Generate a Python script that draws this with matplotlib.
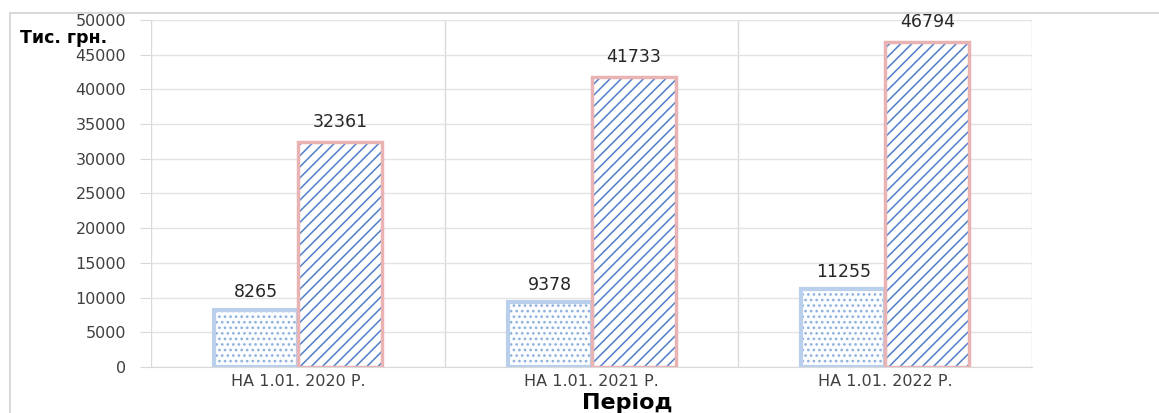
import numpy as np
import matplotlib
matplotlib.use("Agg")
import matplotlib.pyplot as plt
from matplotlib.patches import Rectangle

# data
periods = ["НА 1.01. 2020 Р.", "НА 1.01. 2021 Р.", "НА 1.01. 2022 Р."]
series_a = [8265, 9378, 11255]
series_b = [32361, 41733, 46794]
yticks = np.arange(0, 50001, 5000)

plt.rcParams['font.family'] = 'sans-serif'
plt.rcParams['font.sans-serif'] = ['DejaVu Sans']
plt.rcParams['hatch.linewidth'] = 1.1

fig = plt.figure(figsize=(11.59, 4.13), dpi=100)
ax = fig.add_axes([0.1303, 0.1114, 0.7602, 0.8402])

# outer chart border
fig.patches.append(Rectangle((0.009, -0.05), 1.1, 1.018, transform=fig.transFigure,
                             fill=False, edgecolor='#d9d9d9', linewidth=1.5))

x = np.arange(len(periods))
w = 0.286

# dotted series
ax.bar(x - w / 2, series_a, w, facecolor='#fbfdff', edgecolor='#8fb0dd',
       hatch='...', linewidth=0, zorder=3)
ax.bar(x - w / 2, series_a, w, facecolor='none', edgecolor='#b9cfec',
       linewidth=3, zorder=4)

# hatched series
ax.bar(x + w / 2, series_b, w, facecolor='white', edgecolor='#4f7fc8',
       hatch='///', linewidth=0, zorder=3)
ax.bar(x + w / 2, series_b, w, facecolor='none', edgecolor='#eab3b3',
       linewidth=2.5, zorder=4)

for xi, v in zip(x - w / 2, series_a):
    ax.annotate(str(v), (xi, v), xytext=(0, 6), textcoords='offset points',
                ha='center', va='bottom', fontsize=12.5, color='#262626')
for xi, v in zip(x + w / 2, series_b):
    ax.annotate(str(v), (xi, v), xytext=(0, 8), textcoords='offset points',
                ha='center', va='bottom', fontsize=12.5, color='#262626', zorder=6)

ax.set_xlim(-0.5, 2.5)
ax.set_ylim(0, 50000)
ax.set_yticks(yticks)
ax.set_yticklabels([str(t) for t in yticks], fontsize=11.5, color='#404040')
ax.set_xticks(x)
ax.set_xticklabels(periods, fontsize=11.5, color='#404040')
ax.set_xticks([-0.5, 0.5, 1.5, 2.5], minor=True)

ax.tick_params(axis='y', length=8, color='#d9d9d9', pad=10)
ax.tick_params(axis='x', which='major', length=0, pad=5)
ax.tick_params(axis='x', which='minor', length=0)

ax.grid(axis='y', color='#e3e3e3', linewidth=1, zorder=0)
ax.grid(axis='x', which='minor', color='#d9d9d9', linewidth=1, zorder=0)
ax.grid(axis='x', which='major', visible=False)
for s in ['top', 'right', 'left']:
    ax.spines[s].set_visible(False)
ax.spines['bottom'].set_color('#d9d9d9')

fig.text(0.017, 0.908, "Тис. грн.", fontsize=12.5, fontweight='bold', ha='left',
         va='center')
fig.text(0.541, 0.024, "Період", fontsize=16, fontweight='bold', ha='center',
         va='center')

fig.savefig("out.png", dpi=100)
